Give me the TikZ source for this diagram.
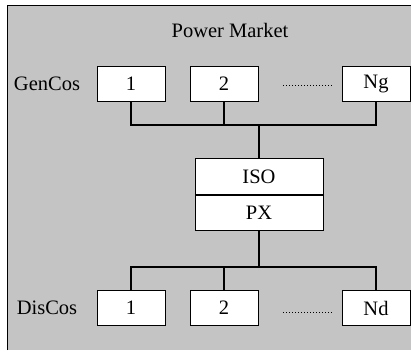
\documentclass[tikz,border=0pt]{standalone}
\usepackage{fontspec}
\setmainfont{Liberation Serif}
\definecolor{screen}{HTML}{C4C4C4}
\usepackage{tikz}

\begin{document}
\begin{tikzpicture}[x=1pt,y=-1pt,every node/.style={font=\fontsize{20.5}{22}\selectfont},
  cobox/.style={draw=black,fill=white,line width=0.9pt,rectangle,minimum width=68pt,minimum height=35pt,inner sep=0pt},
  mkbox/.style={draw=black,fill=white,line width=0.9pt,rectangle,minimum width=128pt,minimum height=35.5pt,inner sep=0pt},
  bus/.style={line width=2pt},
  gap/.style={dotted,line width=1pt}]
\useasboundingbox (0,0) rectangle (411,354);
\fill[screen] (7,5) rectangle (411,350);
\draw[line width=0.8pt] (7,350) -- (7,5) -- (411,5);
\node (title) at (230,30) {Power Market};
\node (gencos) at (47,84) {GenCos};
\node[cobox] (g1) at (131,84) {1};
\node[cobox] (g2) at (224,84) {2};
\node[cobox] (gN) at (376,84) {Ng};
\node[mkbox] (iso) at (259,176.5) {ISO};
\node[mkbox,anchor=north] (px) at (iso.south) {PX};
\node (discos) at (47,308) {DisCos};
\node[cobox] (d1) at (131,308) {1};
\node[cobox] (d2) at (224,308) {2};
\node[cobox] (dN) at (376,308) {Nd};
\coordinate (gbus) at (259,125);
\coordinate (dbus) at (259,267);
\draw[bus] (g1) |- (gbus) -| (gN);
\draw[bus] (g2) -- (g2 |- gbus);
\draw[bus] (gbus) -- (iso);
\draw[bus] (d1) |- (dbus) -| (dN);
\draw[bus] (d2) -- (d2 |- dbus);
\draw[bus] (px) -- (dbus);
\draw[gap] ([xshift=25pt,yshift=-1pt]g2.east) -- ([xshift=-9pt,yshift=-1pt]gN.west);
\draw[gap] ([xshift=25pt,yshift=-4pt]d2.east) -- ([xshift=-9pt,yshift=-4pt]dN.west);
\end{tikzpicture}
\end{document}
